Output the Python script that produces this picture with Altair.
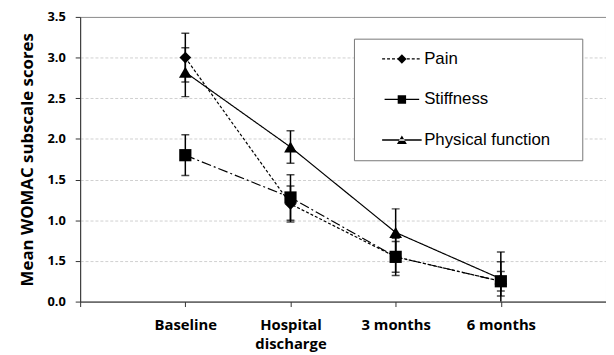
import json
import altair as alt
import pandas as pd

# ---------------- data ----------------
categories = ["Baseline", "Hospital discharge", "3 months", "6 months"]
cat_pos = [1, 2, 3, 4]
x_label_lines = [["Baseline"], ["Hospital", "discharge"], ["3 months"], ["6 months"]]
series_names = ["Pain", "Stiffness", "Physical function"]

pain_mean = [3.0, 1.2, 0.55, 0.25]
pain_err = [0.3, 0.22, 0.19, 0.12]
stiff_mean = [1.8, 1.28, 0.55, 0.25]
stiff_err = [0.25, 0.28, 0.23, 0.36]
phys_mean = [2.82, 1.9, 0.85, 0.28]
phys_err = [0.3, 0.2, 0.29, 0.21]

y_ticks = [0.0, 0.5, 1.0, 1.5, 2.0, 2.5, 3.0, 3.5]
y_tick_labels = ["0.0", "1.5", "1.0", "1.5", "2.0", "2.5", "3.0", "3.5"]

rows = []
for name, means, errs in zip(series_names, [pain_mean, stiff_mean, phys_mean],
                             [pain_err, stiff_err, phys_err]):
    for cat, pos, m, e in zip(categories, cat_pos, means, errs):
        rows.append({"series": name, "category": cat, "pos": pos,
                     "mean": m, "lo": m - e, "hi": m + e})
df = pd.DataFrame(rows)

# ---------------- styling helpers ----------------
FONT_AX = "Open Sans"
FONT_LEG = "Liberation Sans"

x_label_expr = json.dumps([[""]] + x_label_lines + [[""]]) + "[datum.value]"
y_label_expr = "{" + ",".join(f"'{v:.1f}': '{l}'" for v, l in zip(y_ticks, y_tick_labels)) + "}[format(datum.value, '.1f')]"

x_scale = alt.Scale(domain=[0, 5], nice=False, zero=False)
y_scale = alt.Scale(domain=[0, 3.5], nice=False)

x_axis = alt.Axis(values=[0, 1, 2, 3, 4, 5], labelExpr=x_label_expr, title=None,
                  grid=False, tickSize=5, tickColor="#333", domainColor="#333",
                  labelFont=FONT_AX, labelFontWeight="bold", labelFontSize=15,
                  labelColor="black", labelPadding=11, labelLineHeight=19)
y_axis = alt.Axis(values=y_ticks, labelExpr=y_label_expr,
                  title="Mean WOMAC subscale scores", grid=True,
                  gridColor="#cfcfcf", gridDash=[3, 2], gridWidth=1,
                  gridOpacity={"condition": {"test": "datum.value <= 0 || datum.value >= 3.5", "value": 0}, "value": 1},
                  tickSize=5, tickColor="#333", domainColor="#333",
                  labelFont=FONT_AX, labelFontWeight="bold", labelFontSize=13,
                  labelColor="black", labelPadding=10,
                  titleFont=FONT_AX, titleFontWeight="bold", titleFontSize=17,
                  titleColor="black", titlePadding=11)

X = alt.X("pos:Q", scale=x_scale, axis=x_axis)

base = alt.Chart(df)

lines = base.mark_line(color="black", strokeWidth=1.2).encode(
    x=X,
    y=alt.Y("mean:Q", scale=y_scale, axis=y_axis),
    strokeDash=alt.StrokeDash("series:N", scale=alt.Scale(domain=series_names,
                              range=[[3, 2], [10, 3, 2, 3], [1, 0]]), legend=None),
    detail="series:N",
)

rules = base.mark_rule(color="black", strokeWidth=1.5, clip=True).encode(
    x=X, y=alt.Y("lo:Q", scale=y_scale), y2="hi:Q")

caps = base.transform_fold(["lo", "hi"], as_=["end", "val"]).mark_tick(
    color="black", orient="horizontal", size=8, thickness=1.5, clip=True).encode(
    x=X, y=alt.Y("val:Q", scale=y_scale))

points = base.mark_point(filled=True, color="black", opacity=1).encode(
    x=X, y=alt.Y("mean:Q", scale=y_scale),
    shape=alt.Shape("series:N", scale=alt.Scale(domain=series_names,
                    range=["diamond", "square", "triangle-up"]), legend=None),
    size=alt.Size("series:N", scale=alt.Scale(domain=series_names,
                  range=[140, 165, 180]), legend=None),
)


# legend symbols: line + marker drawn as filled custom paths (unit = 5 px);
# the trailing move-to only widens the legend frame
def seg(x0, x1, h=0.13):
    return f"M{x0:.2f},{-h:.2f}H{x1:.2f}V{h:.2f}H{x0:.2f}Z"


pain_path = "".join(seg(-4 + i, -3.4 + i) for i in range(8)) + "M0,-0.95L0.95,0L0,0.95L-0.95,0Z" + "M34,0"
stiff_path = seg(-3.5, 3.5) + "M-0.85,-0.85H0.85V0.85H-0.85Z" + "M34,0"
phys_path = seg(-4, 4) + "M-1,0.8L1,0.8L0,-0.9Z" + "M34,0"

legend_layer = base.transform_filter("false").mark_point(
    filled=True, fill="black", fillOpacity=1, strokeWidth=0, opacity=1).encode(
    x=X, y=alt.Y("mean:Q", scale=y_scale),
    shape=alt.Shape("series:N", scale=alt.Scale(domain=series_names,
                    range=[pain_path, stiff_path, phys_path]),
                    legend=alt.Legend(title=None, orient="none", legendX=277, legendY=22,
                                      padding=12, strokeColor="#777", fillColor="white",
                                      symbolSize=100, symbolStrokeWidth=0,
                                      symbolFillColor="black",
                                      symbolOpacity=1, symbolOffset=28, labelOffset=14,
                                      labelFont=FONT_LEG, labelFontSize=17,
                                      labelColor="black", rowPadding=23)),
)

chart = alt.layer(lines, rules, caps, points, legend_layer).resolve_scale(
    shape="independent").properties(
    width=532, height=288,
    autosize=alt.AutoSizeParams(type="none"),
    padding={"left": 73, "top": 7, "right": 0, "bottom": 52},
).configure_view(stroke="#8a8a8a", strokeWidth=1)

chart.save("out.html", embed_options={"renderer": "svg", "actions": False})
